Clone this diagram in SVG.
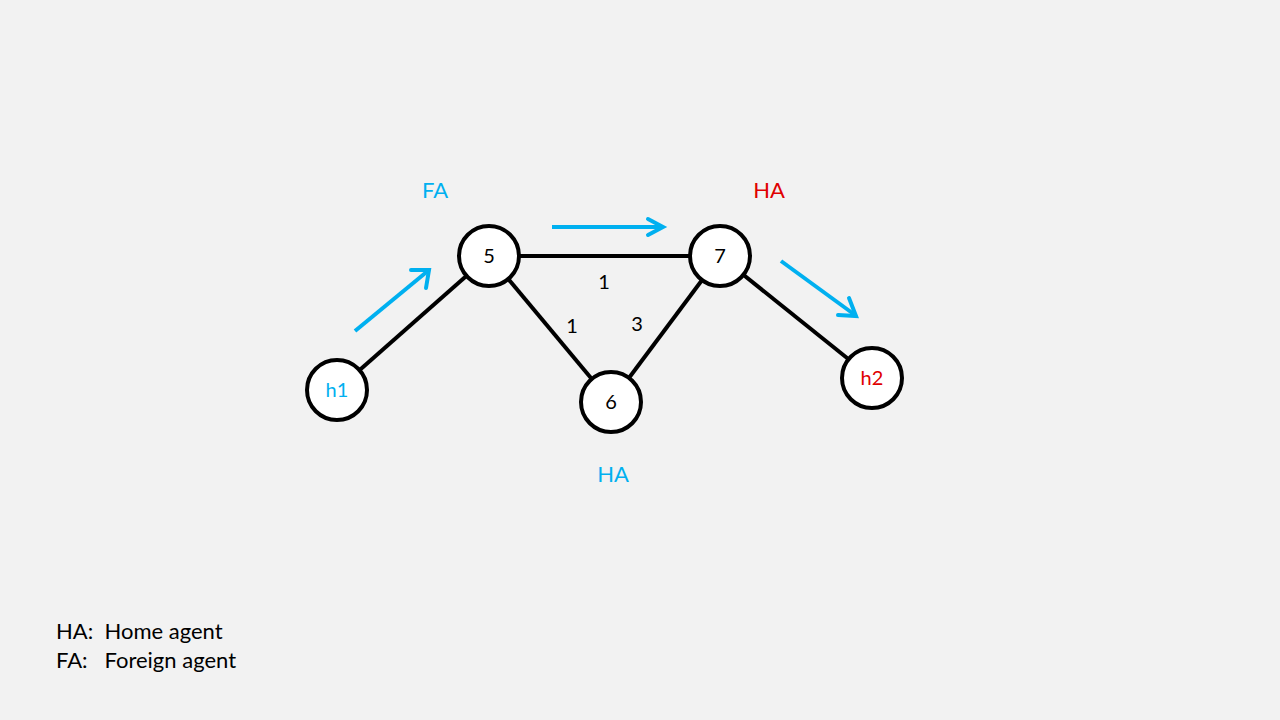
<svg xmlns="http://www.w3.org/2000/svg" width="1280" height="720" viewBox="0 0 1280 720">
<defs>
<style>
text{font-family:"Lato","Open Sans","Liberation Sans",sans-serif;}
.node{fill:#fff;stroke:#000;stroke-width:4;}
.edge{stroke:#000;stroke-width:4;fill:none;}
.flow{stroke:#00B0F0;stroke-width:4;fill:none;stroke-linecap:butt;}
.head{stroke:#00B0F0;stroke-width:4;fill:none;stroke-linecap:round;stroke-linejoin:miter;}
.lbl{font-size:20px;text-anchor:middle;}
.tag{font-size:22px;text-anchor:middle;}
.blue{fill:#00B0F0;}
.red{fill:#E00000;}
</style>
</defs>
<rect width="1280" height="720" fill="#F2F2F2"/>
<g id="connectors">
<line class="edge" x1="337" y1="390" x2="489" y2="256"/>
<line class="edge" x1="489" y1="256" x2="720" y2="256"/>
<line class="edge" x1="489" y1="256" x2="611" y2="402"/>
<line class="edge" x1="611" y1="402" x2="720" y2="256"/>
<line class="edge" x1="720" y1="256" x2="872" y2="378"/>
</g>
<g id="flows">
<line class="flow" x1="355" y1="331" x2="429" y2="270"/>
<polyline class="head" points="411,270 429,270 426,288" transform="rotate(0)"/>
<line class="flow" x1="552" y1="227" x2="662" y2="227"/>
<polyline class="head" points="648,219 663,227 648,235"/>
<line class="flow" x1="781" y1="261" x2="855" y2="315"/>
<polyline class="head" points="849,298 856,316 838,315"/>
</g>
<g id="node-h1"><circle class="node" cx="337" cy="390" r="30"/><text class="lbl blue" x="337" y="397">h1</text></g>
<g id="node-5"><circle class="node" cx="489" cy="256" r="30"/><text class="lbl" x="489" y="263">5</text></g>
<g id="node-7"><circle class="node" cx="720" cy="256" r="30"/><text class="lbl" x="720" y="263">7</text></g>
<g id="node-6"><circle class="node" cx="611" cy="402" r="30"/><text class="lbl" x="611" y="409">6</text></g>
<g id="node-h2"><circle class="node" cx="872" cy="378" r="30"/><text class="lbl red" x="872" y="385">h2</text></g>
<g id="edge-labels">
<text class="lbl" x="604" y="289">1</text>
<text class="lbl" x="572" y="333">1</text>
<text class="lbl" x="637" y="331">3</text>
</g>
<g id="tags">
<text class="tag blue" x="435" y="198">FA</text>
<text class="tag red" x="769" y="198">HA</text>
<text class="tag blue" x="613" y="482">HA</text>
</g>
<g id="legend" font-size="22">
<text x="56" y="639" xml:space="preserve">HA:  Home agent</text>
<text x="56" y="668" xml:space="preserve">FA:   Foreign agent</text>
</g>
</svg>
